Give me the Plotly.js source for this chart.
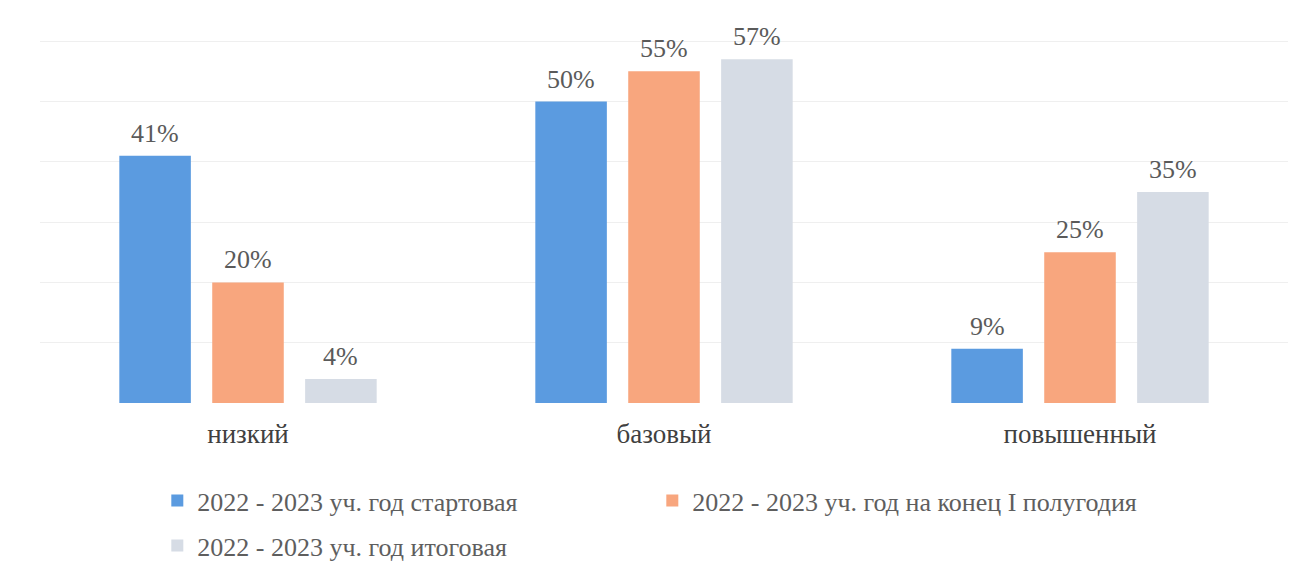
<!DOCTYPE html>
<html><head><meta charset="utf-8">
<script src="https://cdn.plot.ly/plotly-3.0.1.min.js"></script>
<style>body{margin:0;background:#fff}#c{width:1305px;height:565px}</style>
</head><body><div id="c"></div>
<script>
const categories = ["низкий", "базовый", "повышенный"];
const seriesNames = ["2022 - 2023 уч. год стартовая", "2022 - 2023 уч. год на конец I полугодия", "2022 - 2023 уч. год итоговая"];
const startValues = [41, 50, 9];
const midValues = [20, 55, 25];
const finalValues = [4, 57, 35];
const colors = ["#5b9be0", "#f8a67e", "#d6dce5"];
const allValues = [startValues, midValues, finalValues];
const legendIds = ["legend", "legend", "legend2"];

const BARGAP = 0.33;
const nSeries = allValues.length;
const SERIF = "Liberation Serif";

const traces = allValues.map((vals, i) => ({
  type: "bar",
  name: seriesNames[i],
  x: categories,
  y: vals,
  marker: {color: colors[i]},
  legend: legendIds[i],
  hoverinfo: "none"
}));

const annotations = [];
allValues.forEach((vals, i) => {
  vals.forEach((v, j) => {
    annotations.push({
      x: j + (i - (nSeries - 1) / 2) * (1 - BARGAP) / nSeries,
      y: v, xref: "x", yref: "y",
      text: v + "%", showarrow: false,
      yanchor: "bottom", yshift: 6,
      font: {family: SERIF, size: 26, color: "#5a5a5a"}
    });
  });
});

const legendFont = {family: SERIF, size: 26, color: "#5e5e5e"};
const layout = {
  width: 1305, height: 565,
  margin: {l: 40, r: 17, t: 40, b: 162},
  paper_bgcolor: "#fff", plot_bgcolor: "#fff",
  barmode: "group", bargap: BARGAP, bargroupgap: 0.23,
  xaxis: {tickfont: {family: SERIF, size: 27, color: "#404040"}, showline: false, ticks: "", showgrid: false, ticklabelstandoff: 12},
  yaxis: {range: [0, 60.2], tickvals: [10, 20, 30, 40, 50, 60], showticklabels: false, gridcolor: "#efefef", zeroline: false, showline: false},
  showlegend: true,
  annotations: annotations,
  legend: {orientation: "h", x: 0.094, xanchor: "left", yref: "container", y: 1 - 477 / 565, yanchor: "top",
    font: legendFont, entrywidth: 450, entrywidthmode: "pixels", traceorder: "normal"},
  legend2: {orientation: "h", x: 0.094, xanchor: "left", yref: "container", y: 1 - 522 / 565, yanchor: "top",
    font: legendFont, traceorder: "normal"}
};
Plotly.newPlot("c", traces, layout, {staticPlot: true});
</script></body></html>
